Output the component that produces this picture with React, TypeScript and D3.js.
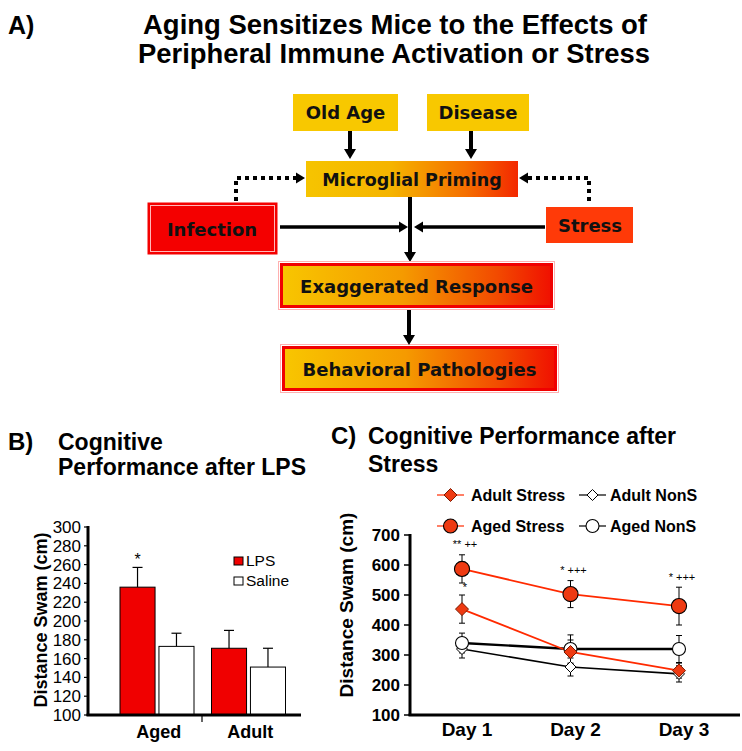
import React from "react";
import * as d3 from "d3";

// ---------- Panel A text ----------
const titleLines = ["Aging Sensitizes Mice to the Effects of", "Peripheral Immune Activation or Stress"];
const topCauses = ["Old Age", "Disease"];
const midNode = "Microglial Priming";
const sideNodes = ["Infection", "Stress"];
const outcomeNodes = ["Exaggerated Response", "Behavioral Pathologies"];

// ---------- Panel B data ----------
const groupsB = ["Aged", "Adult"];
const treatmentsB = ["LPS", "Saline"];
const lpsMeans = [236, 171];
const lpsSem = [21, 19];
const salineMeans = [173, 151];
const salineSem = [14, 20];
const yTicksB = [100, 120, 140, 160, 180, 200, 220, 240, 260, 280, 300];
const sigB = ["*", ""];

// ---------- Panel C data ----------
const days = ["Day 1", "Day 2", "Day 3"];
const adultStress = [453, 310, 248];
const adultStressSem = [47, 40, 25];
const agedStress = [587, 503, 463];
const agedStressSem = [47, 45, 63];
const adultNonS = [320, 260, 237];
const adultNonSSem = [30, 30, 27];
const agedNonS = [340, 320, 320];
const agedNonSSem = [33, 47, 45];
const yTicksC = [100, 200, 300, 400, 500, 600, 700];
const annotDays = ["Day 1", "Day 1", "Day 2", "Day 3"];
const annotTexts = ["** ++", "*", "* +++", "* +++"];
const annotValues = [657, 515, 570, 547];

const FLOW_FONT = "'DejaVu Sans', Verdana, sans-serif";
const ARIAL = "'Liberation Sans', Arial, Helvetica, sans-serif";
const RED = "#FF2A00";

function ArrowHead({ x, y, dir, size = 9 }: { x: number; y: number; dir: "down" | "right" | "left"; size?: number }) {
  const w = size * 0.6;
  let d = "";
  if (dir === "down") d = `M${x - w},${y - size}L${x + w},${y - size}L${x},${y}Z`;
  if (dir === "right") d = `M${x - size},${y - w}L${x - size},${y + w}L${x},${y}Z`;
  if (dir === "left") d = `M${x + size},${y - w}L${x + size},${y + w}L${x},${y}Z`;
  return <path d={d} fill="#000" />;
}

export default function App() {
  // ----- Panel B scales -----
  const yB = d3.scaleLinear().domain([100, 300]).range([715, 527]);
  const xB = d3.scaleBand<string>().domain(groupsB).range([111, 294]);
  const xBin = d3.scaleBand<string>().domain(treatmentsB).range([9, 83]).paddingInner(0.1);
  const barsB = groupsB.flatMap((g, i) => [
    { g, t: "LPS", v: lpsMeans[i], e: lpsSem[i], fill: "#F00000" },
    { g, t: "Saline", v: salineMeans[i], e: salineSem[i], fill: "#FFFFFF" },
  ]);

  // ----- Panel C scales -----
  const yC = d3.scaleLinear().domain([100, 700]).range([715, 535]);
  const xC = d3.scalePoint<string>().domain(days).range([462, 679]);
  const line = d3
    .line<number>()
    .x((_, i) => xC(days[i]) as number)
    .y((v) => yC(v));

  const seriesC = [
    { name: "Adult NonS", values: adultNonS, sem: adultNonSSem, color: "#000", fill: "#fff", shape: "diamond", lw: 1.6 },
    { name: "Aged NonS", values: agedNonS, sem: agedNonSSem, color: "#000", fill: "#fff", shape: "circle", lw: 2.4 },
    { name: "Adult Stress", values: adultStress, sem: adultStressSem, color: RED, fill: "#EE3A12", shape: "diamond", lw: 1.8 },
    { name: "Aged Stress", values: agedStress, sem: agedStressSem, color: RED, fill: "#EE3A12", shape: "circle", lw: 1.8 },
  ];

  const marker = (shape: string, x: number, y: number, fill: string, key: string, big = 1) => {
    if (shape === "circle") {
      const r = fill === "#fff" ? 6.5 : 7 * big;
      return <circle key={key} cx={x} cy={y} r={r} fill={fill} stroke="#000" strokeWidth={1.1} />;
    }
    const s = fill === "#fff" ? 5.5 : 6.5;
    return (
      <path key={key} d={`M${x},${y - s}L${x + s},${y}L${x},${y + s}L${x - s},${y}Z`} fill={fill} stroke={fill === "#fff" ? "#000" : "#7a1a00"} strokeWidth={1} />
    );
  };

  const legendC = [
    { name: "Adult Stress", shape: "diamond", color: RED, fill: "#EE3A12", x: 437, y: 495 },
    { name: "Adult NonS", shape: "diamond", color: "#000", fill: "#fff", x: 579, y: 495 },
    { name: "Aged Stress", shape: "circle", color: RED, fill: "#EE3A12", x: 437, y: 526 },
    { name: "Aged NonS", shape: "circle", color: "#000", fill: "#fff", x: 579, y: 526 },
  ];

  return (
    <svg width={742} height={751} style={{ position: "absolute", left: 0, top: 0, background: "#fff" }}>
      <defs>
        <linearGradient id="gMicro" x1="0" x2="1" y1="0" y2="0">
          <stop offset="0%" stopColor="#F6C400" />
          <stop offset="40%" stopColor="#F5B400" />
          <stop offset="75%" stopColor="#F57000" />
          <stop offset="100%" stopColor="#F32800" />
        </linearGradient>
        <linearGradient id="gOut" x1="0" x2="1" y1="0" y2="0">
          <stop offset="0%" stopColor="#F8C600" />
          <stop offset="45%" stopColor="#F59A00" />
          <stop offset="80%" stopColor="#F24A00" />
          <stop offset="100%" stopColor="#F01000" />
        </linearGradient>
      </defs>

      {/* ================= Panel A ================= */}
      <text x={8} y={34} fontFamily={ARIAL} fontWeight="bold" fontSize={25}>A)</text>
      <text x={395} y={34} textAnchor="middle" fontFamily={ARIAL} fontWeight="bold" fontSize={27} textLength={504} lengthAdjust="spacingAndGlyphs">{titleLines[0]}</text>
      <text x={394} y={63} textAnchor="middle" fontFamily={ARIAL} fontWeight="bold" fontSize={27} textLength={512} lengthAdjust="spacingAndGlyphs">{titleLines[1]}</text>

      {/* top cause boxes */}
      {topCauses.map((t, i) => {
        const bx = [293, 427][i];
        const bw = [105, 102][i];
        return (
          <g key={t}>
            <rect x={bx} y={94} width={bw} height={37} fill="#F8C800" />
            <text x={bx + bw / 2} y={119} textAnchor="middle" fontFamily={FLOW_FONT} fontWeight="bold" fontSize={18} fill="#111">{t}</text>
          </g>
        );
      })}
      {/* down arrows from causes */}
      {[350, 471].map((x) => (
        <g key={x}>
          <line x1={x} x2={x} y1={131} y2={150} stroke="#000" strokeWidth={4} />
          <ArrowHead x={x} y={159} dir="down" size={10} />
        </g>
      ))}

      {/* Microglial priming */}
      <rect x={306} y={161} width={212} height={36} fill="url(#gMicro)" />
      <text x={412} y={186} textAnchor="middle" fontFamily={FLOW_FONT} fontWeight="bold" fontSize={17.5} fill="#111">{midNode}</text>

      {/* dotted feedback arrows */}
      <path d="M236,201 L236,178 L296,178" fill="none" stroke="#000" strokeWidth={4} strokeDasharray="4 4" />
      <ArrowHead x={305} y={178} dir="right" size={9} />
      <path d="M589,201 L589,178 L528,178" fill="none" stroke="#000" strokeWidth={4} strokeDasharray="4 4" />
      <ArrowHead x={519} y={178} dir="left" size={9} />

      {/* Infection */}
      <rect x={148} y={203} width={129} height={51} fill="#F40000" stroke="#F40000" strokeWidth={1} />
      <rect x={150.5} y={205.5} width={124} height={46} fill="none" stroke="#FFB8B8" strokeWidth={1} />
      <text x={212} y={236} textAnchor="middle" fontFamily={FLOW_FONT} fontWeight="bold" fontSize={18} fill="#111">{sideNodes[0]}</text>

      {/* Stress */}
      <rect x={546} y={207} width={87} height={36} fill="#FF3A08" />
      <text x={590} y={232} textAnchor="middle" fontFamily={FLOW_FONT} fontWeight="bold" fontSize={18} fill="#111">{sideNodes[1]}</text>

      {/* horizontal arrows */}
      <line x1={280} x2={400} y1={227} y2={227} stroke="#000" strokeWidth={3.5} />
      <ArrowHead x={408} y={227} dir="right" size={9} />
      <line x1={545} x2={422} y1={227} y2={227} stroke="#000" strokeWidth={3.5} />
      <ArrowHead x={414} y={227} dir="left" size={9} />

      {/* vertical main arrow */}
      <line x1={410} x2={410} y1={197} y2={253} stroke="#000" strokeWidth={4} />
      <ArrowHead x={410} y={262} dir="down" size={10} />

      {/* outcome boxes */}
      {outcomeNodes.map((t, i) => {
        const bx = [280, 282][i];
        const by = [263, 346][i];
        const bw = [273, 275][i];
        const bh = 45;
        return (
          <g key={t}>
            <rect x={bx - 1.5} y={by - 1.5} width={bw + 3} height={bh + 3} fill="none" stroke="#FFB0B0" strokeWidth={1} />
            <rect x={bx + 1.5} y={by + 1.5} width={bw - 3} height={bh - 3} fill="url(#gOut)" stroke="#F00000" strokeWidth={3} />
            <text x={bx + bw / 2} y={by + 30} textAnchor="middle" fontFamily={FLOW_FONT} fontWeight="bold" fontSize={18} fill="#111">{t}</text>
          </g>
        );
      })}
      <line x1={409} x2={409} y1={310} y2={336} stroke="#000" strokeWidth={4} />
      <ArrowHead x={409} y={345} dir="down" size={10} />

      {/* ================= Panel B ================= */}
      <text x={8} y={450} fontFamily={ARIAL} fontWeight="bold" fontSize={24}>B)</text>
      <text x={58} y={450} fontFamily={ARIAL} fontWeight="bold" fontSize={23}>Cognitive</text>
      <text x={58} y={475} fontFamily={ARIAL} fontWeight="bold" fontSize={23}>Performance after LPS</text>

      <text transform={`translate(47,${(yB(100) + yB(300)) / 2 - 1}) rotate(-90)`} textAnchor="middle" fontFamily={ARIAL} fontWeight="bold" fontSize={18}>Distance Swam (cm)</text>
      {yTicksB.map((t) => (
        <g key={t}>
          <line x1={84} x2={88} y1={yB(t)} y2={yB(t)} stroke="#000" strokeWidth={1.2} />
          <text x={81} y={yB(t) + 6} textAnchor="end" fontFamily={ARIAL} fontSize={17}>{t}</text>
        </g>
      ))}
      {barsB.map((b) => {
        const x0 = (xB(b.g) as number) + (xBin(b.t) as number);
        const w = xBin.bandwidth();
        const cx = x0 + w / 2;
        return (
          <g key={b.g + b.t}>
            <line x1={cx} x2={cx} y1={yB(b.v)} y2={yB(b.v + b.e)} stroke="#000" strokeWidth={1.2} />
            <line x1={cx - 5} x2={cx + 5} y1={yB(b.v + b.e)} y2={yB(b.v + b.e)} stroke="#000" strokeWidth={1.2} />
            <rect x={x0} y={yB(b.v)} width={w} height={yB(100) - yB(b.v)} fill={b.fill} stroke="#000" strokeWidth={1} />
          </g>
        );
      })}
      {groupsB.map((g, i) =>
        sigB[i] ? (
          <text key={g} x={(xB(g) as number) + (xBin("LPS") as number) + xBin.bandwidth() / 2} y={yB(lpsMeans[i] + lpsSem[i]) - 2} textAnchor="middle" fontFamily={ARIAL} fontSize={16}>{sigB[i]}</text>
        ) : null
      )}
      <line x1={88} x2={88} y1={526} y2={716} stroke="#000" strokeWidth={3} />
      <line x1={86.5} x2={301} y1={715} y2={715} stroke="#000" strokeWidth={3} />
      <line x1={202} x2={202} y1={715} y2={722} stroke="#000" strokeWidth={1.2} />
      {groupsB.map((g) => (
        <text key={g} x={(xB(g) as number) + xB.bandwidth() / 2 + 2} y={738} textAnchor="middle" fontFamily={ARIAL} fontWeight="bold" fontSize={18}>{g}</text>
      ))}
      {/* legend B */}
      {treatmentsB.map((t, i) => (
        <g key={t}>
          <rect x={234} y={557 + i * 20} width={9} height={8} fill={i === 0 ? "#F00000" : "#fff"} stroke="#000" strokeWidth={1} />
          <text x={246} y={566 + i * 20} fontFamily={ARIAL} fontSize={15.5}>{t}</text>
        </g>
      ))}

      {/* ================= Panel C ================= */}
      <text x={331} y={444} fontFamily={ARIAL} fontWeight="bold" fontSize={24}>C)</text>
      <text x={368} y={444} fontFamily={ARIAL} fontWeight="bold" fontSize={23}>Cognitive Performance after</text>
      <text x={368} y={472} fontFamily={ARIAL} fontWeight="bold" fontSize={23}>Stress</text>

      {legendC.map((l) => (
        <g key={l.name}>
          <line x1={l.x} x2={l.x + 27} y1={l.y} y2={l.y} stroke={l.color} strokeWidth={1.2} />
          {marker(l.shape, l.x + 13.5, l.y, l.fill, "lm" + l.name)}
          <text x={l.x + (l.color === RED ? 34 : 31)} y={l.y + 6} fontFamily={ARIAL} fontWeight="bold" fontSize={16}>{l.name}</text>
        </g>
      ))}

      <text transform={`translate(353,${(yC(100) + yC(700)) / 2 - 20}) rotate(-90)`} textAnchor="middle" fontFamily={ARIAL} fontWeight="bold" fontSize={19}>Distance Swam (cm)</text>
      {yTicksC.map((t) => (
        <g key={t}>
          <line x1={404} x2={410} y1={yC(t)} y2={yC(t)} stroke="#000" strokeWidth={1.5} />
          <text x={400} y={yC(t) + 6} textAnchor="end" fontFamily={ARIAL} fontWeight="bold" fontSize={17}>{t}</text>
        </g>
      ))}
      <line x1={410} x2={410} y1={534} y2={716} stroke="#000" strokeWidth={3} />
      <line x1={408.5} x2={740} y1={715} y2={715} stroke="#000" strokeWidth={3} />
      {days.map((d) => (
        <text key={d} x={(xC(d) as number) + 5} y={736} textAnchor="middle" fontFamily={ARIAL} fontWeight="bold" fontSize={19}>{d}</text>
      ))}

      {/* lines */}
      {seriesC.map((s) => (
        <path key={"l" + s.name} d={line(s.values) as string} fill="none" stroke={s.color} strokeWidth={s.lw} />
      ))}
      {/* error bars */}
      {seriesC.map((s) =>
        s.values.map((v, i) => {
          const x = xC(days[i]) as number;
          return (
            <g key={"e" + s.name + i}>
              <line x1={x} x2={x} y1={yC(v + s.sem[i])} y2={yC(v - s.sem[i])} stroke="#000" strokeWidth={1} />
              <line x1={x - 3} x2={x + 3} y1={yC(v + s.sem[i])} y2={yC(v + s.sem[i])} stroke="#000" strokeWidth={1} />
              <line x1={x - 3} x2={x + 3} y1={yC(v - s.sem[i])} y2={yC(v - s.sem[i])} stroke="#000" strokeWidth={1} />
            </g>
          );
        })
      )}
      {/* markers */}
      {seriesC.map((s) =>
        s.values.map((v, i) => marker(s.shape, xC(days[i]) as number, yC(v), s.fill, "m" + s.name + i, 1.08))
      )}
      {annotTexts.map((t, i) => (
        <text key={"a" + i} x={(xC(annotDays[i]) as number) + 3} y={yC(annotValues[i])} textAnchor="middle" fontFamily={ARIAL} fontSize={11}>{t}</text>
      ))}
    </svg>
  );
}
